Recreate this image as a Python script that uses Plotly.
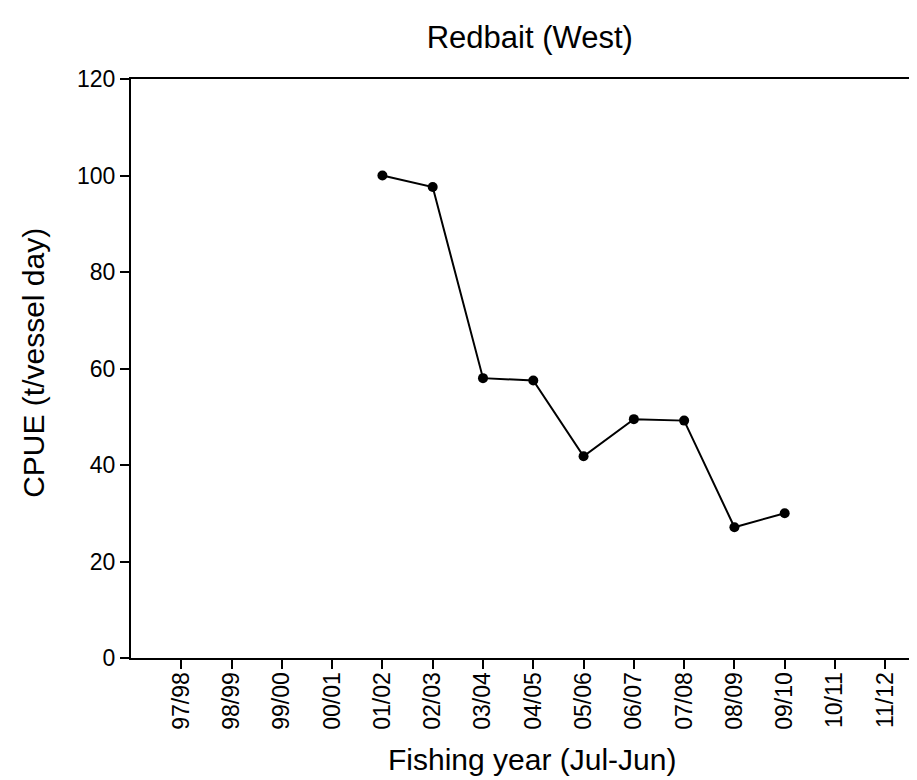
import plotly.graph_objects as go

years = ["97/98", "98/99", "99/00", "00/01", "01/02", "02/03", "03/04", "04/05",
         "05/06", "06/07", "07/08", "08/09", "09/10", "10/11", "11/12"]
cpue_years = ["01/02", "02/03", "03/04", "04/05", "05/06", "06/07", "07/08", "08/09", "09/10"]
cpue = [100.0, 97.6, 58.0, 57.5, 41.8, 49.5, 49.2, 27.1, 30.0]
y_ticks = [0, 20, 40, 60, 80, 100, 120]

FONT = "Liberation Sans, Arial, sans-serif"
x_idx = [years.index(y) for y in cpue_years]

fig = go.Figure()
fig.add_trace(go.Scatter(
    x=x_idx, y=cpue, mode="lines+markers",
    line=dict(color="black", width=2),
    marker=dict(color="black", size=10),
    showlegend=False,
))

fig.update_layout(
    width=917, height=780,
    margin=dict(l=123, r=0, t=71, b=130),
    paper_bgcolor="white", plot_bgcolor="white",
    title=dict(text="Redbait (West)", x=0.569, xanchor="center", y=0.963, yanchor="middle",
               font=dict(family=FONT, size=31, color="black")),
    font=dict(family=FONT, color="black"),
)
fig.update_xaxes(
    range=[-1, 14.79],
    tickmode="array", tickvals=list(range(len(years))), ticktext=years,
    tickangle=-90, tickfont=dict(family=FONT, size=23, color="black"),
    ticklabelstandoff=-6,
    ticks="outside", ticklen=9, tickwidth=2, tickcolor="black",
    showline=True, linecolor="black", linewidth=2, mirror=True,
    showgrid=False, zeroline=False,
)
fig.update_yaxes(
    range=[0, 120], tickmode="array", tickvals=y_ticks,
    tickfont=dict(family=FONT, size=23, color="black"),
    ticks="outside", ticklen=9, tickwidth=2, tickcolor="black",
    showline=True, linecolor="black", linewidth=2,
    showgrid=False, zeroline=False,
)
fig.add_annotation(text="Fishing year (Jul-Jun)", xref="paper", yref="paper",
                   x=0.505, y=-0.176, xanchor="center", yanchor="middle", showarrow=False,
                   font=dict(family=FONT, size=30, color="black"))
fig.add_annotation(text="CPUE (t/vessel day)", xref="paper", yref="paper",
                   x=-0.122, y=0.51, xanchor="center", yanchor="middle", showarrow=False,
                   textangle=-90, font=dict(family=FONT, size=30, color="black"))

fig.write_html("out.html")
